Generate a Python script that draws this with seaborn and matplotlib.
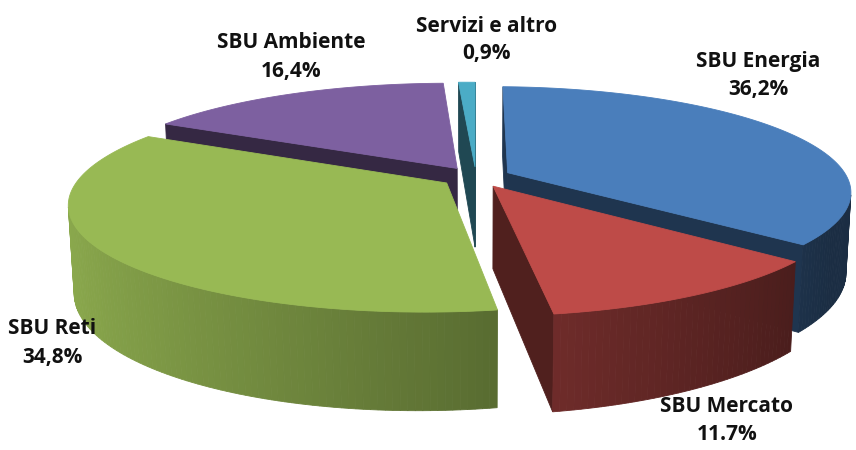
import numpy as np
import matplotlib
matplotlib.use("Agg")
import matplotlib.pyplot as plt
import matplotlib.colors as mcolors
import seaborn as sns

# dati
labels = ["SBU Energia", "SBU Mercato", "SBU Reti", "SBU Ambiente", "Servizi e altro"]
shares = [36.2, 11.7, 34.8, 16.4, 0.9]
pct_text = ["36,2%", "11.7%", "34,8%", "16,4%", "0,9%"]
colors = ["#4A7EBB", "#BE4B48", "#98B954", "#7D60A0", "#4BACC6"]

# posizione etichette (centro prima riga, pixel)
label_xy = [(758, 62), (727, 407), (52, 329), (291, 43), (487, 26)]

sns.set_theme(style="white")
plt.rcParams['font.family'] = ['Open Sans', 'DejaVu Sans']

# proiezione prospettica della torta 3D
CX, CY = 476, 177
F, D, K, PHI = 1880, 5.33, 0.177, np.radians(17)
H = 0.245
EXPLODE = 0.1
cam = np.array([0.0, -D * np.cos(PHI), D * np.sin(PHI)])


def project(p):
    p = np.asarray(p, dtype=float)
    x, y, z = p[:, 0], p[:, 1], p[:, 2]
    depth = D + K * x + y * np.cos(PHI) - z * np.sin(PHI)
    up = y * np.sin(PHI) + z * np.cos(PHI)
    return np.column_stack([CX + F * x / depth, CY - F * up / depth])


def shade(c, f):
    return tuple(np.clip(np.array(mcolors.to_rgb(c)) * f, 0, 1))


sides = []
tops = []
start = 90.0
for share, col in zip(shares, colors):
    ta = np.radians(start)
    tb = np.radians(start - share * 3.6)
    start -= share * 3.6
    mid = (ta + tb) / 2
    ox, oy = EXPLODE * np.cos(mid), EXPLODE * np.sin(mid)

    def rim(t, z):
        return [ox + np.cos(t), oy + np.sin(t), z]

    # lato esterno
    n = max(3, int(np.degrees(ta - tb)) + 2)
    ts = np.linspace(ta, tb, n)
    for t1, t2 in zip(ts[:-1], ts[1:]):
        quad = np.array([rim(t1, 0), rim(t2, 0), rim(t2, -H), rim(t1, -H)])
        tm = (t1 + t2) / 2
        normal = np.array([np.cos(tm), np.sin(tm), 0])
        cen = quad.mean(axis=0)
        if np.dot(cen - cam, normal) < 0:
            f = np.clip(0.62 - 0.3 * np.cos(tm), 0.36, 0.92)
            sides.append((np.linalg.norm(cen - cam), project(quad), shade(col, f)))

    # facce radiali
    apex_top = [ox, oy, 0]
    apex_bot = [ox, oy, -H]
    for t, normal in [(ta, np.array([-np.sin(ta), np.cos(ta), 0])),
                      (tb, np.array([np.sin(tb), -np.cos(tb), 0]))]:
        quad = np.array([apex_top, rim(t, 0), rim(t, -H), apex_bot])
        cen = quad.mean(axis=0)
        if np.dot(cen - cam, normal) < 0:
            sides.append((np.linalg.norm(cen - cam), project(quad), shade(col, 0.42)))

    # faccia superiore
    top = np.array([apex_top] + [rim(t, 0) for t in np.linspace(ta, tb, n * 2)])
    tops.append((project(top), col))

fig = plt.figure(figsize=(8.56, 4.5), dpi=100)
ax = fig.add_axes([0, 0, 1, 1])
ax.set_xlim(0, 856)
ax.set_ylim(450, 0)
ax.axis("off")

for _, poly, c in sorted(sides, key=lambda s: -s[0]):
    ax.fill(poly[:, 0], poly[:, 1], color=c, lw=0.6)
for poly, c in tops:
    ax.fill(poly[:, 0], poly[:, 1], color=c, lw=0.6)

for (x, y), lab, pct in zip(label_xy, labels, pct_text):
    ax.text(x, y, lab, ha="center", va="center", fontsize=15, fontweight="bold", color="#111111")
    ax.text(x, y + 28, pct, ha="center", va="center", fontsize=15, fontweight="bold", color="#111111")

fig.savefig("out.png", dpi=100)
